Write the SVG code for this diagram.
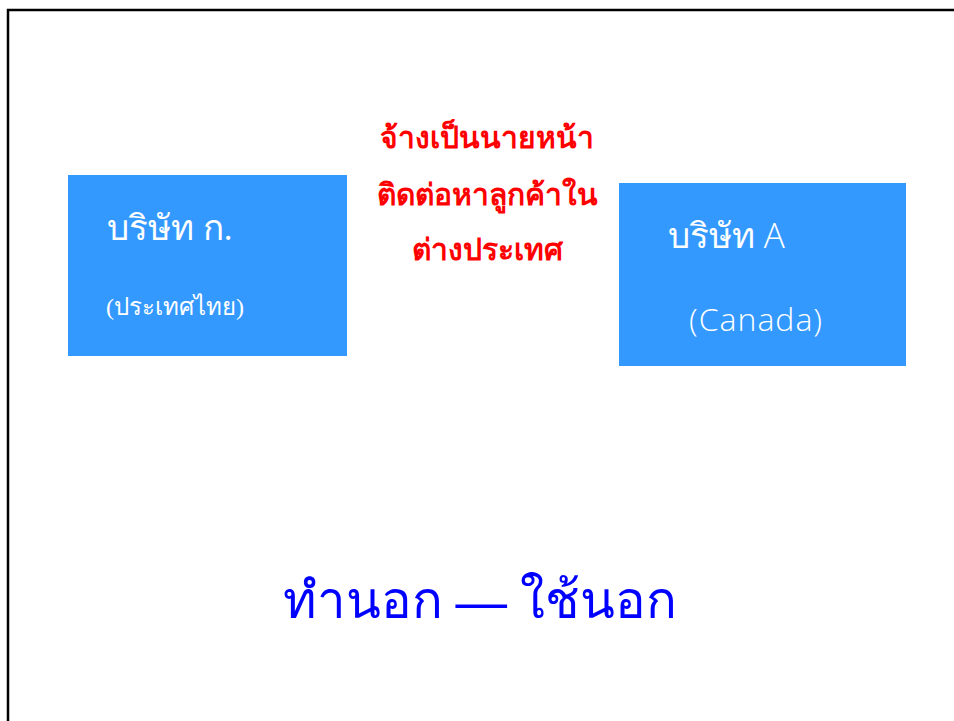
<svg xmlns="http://www.w3.org/2000/svg" width="954" height="721" viewBox="0 0 954 721">
<style>
.box{fill:#3399FF}
.th{font-family:"Liberation Serif","DejaVu Serif",serif;fill:#FFFFFF}
.en{font-family:"Open Sans","Noto Sans",sans-serif;font-weight:300;fill:#FFFFFF}
.red{font-family:"Noto Sans","DejaVu Sans",sans-serif;font-weight:bold;fill:#FF0000;font-size:30px;text-anchor:middle}
.big{font-family:"Liberation Serif","DejaVu Serif",serif;fill:#0000FF;font-size:51px}
</style>
<rect x="0" y="0" width="954" height="721" fill="#FFFFFF"/>
<rect x="8" y="10" width="960" height="730" fill="none" stroke="#000000" stroke-width="2.5"/>
<g id="node-company-th">
<rect class="box" x="68" y="175" width="279" height="181"/>
<text class="th" x="107" y="240" font-size="35">บริษัท ก.</text>
<text class="th" x="106" y="315" font-size="24">(ประเทศไทย)</text>
</g>
<g id="node-company-ca">
<rect class="box" x="619" y="183" width="287" height="183"/>
<text class="th" x="668" y="248" font-size="35">บริษัท <tspan class="en">A</tspan></text>
<text class="en" x="689" y="331" font-size="32" letter-spacing="1">(Canada)</text>
</g>
<g id="label-middle">
<text class="red" x="487" y="148">จ้างเป็นนายหน้า</text>
<text class="red" x="487" y="205">ติดต่อหาลูกค้าใน</text>
<text class="red" x="487" y="260">ต่างประเทศ</text>
</g>
<g id="title">
<text class="big" x="283" y="618">ทำนอก <tspan font-weight="bold">—</tspan> ใช้นอก</text>
</g>
<g id="connectors"></g>
</svg>
